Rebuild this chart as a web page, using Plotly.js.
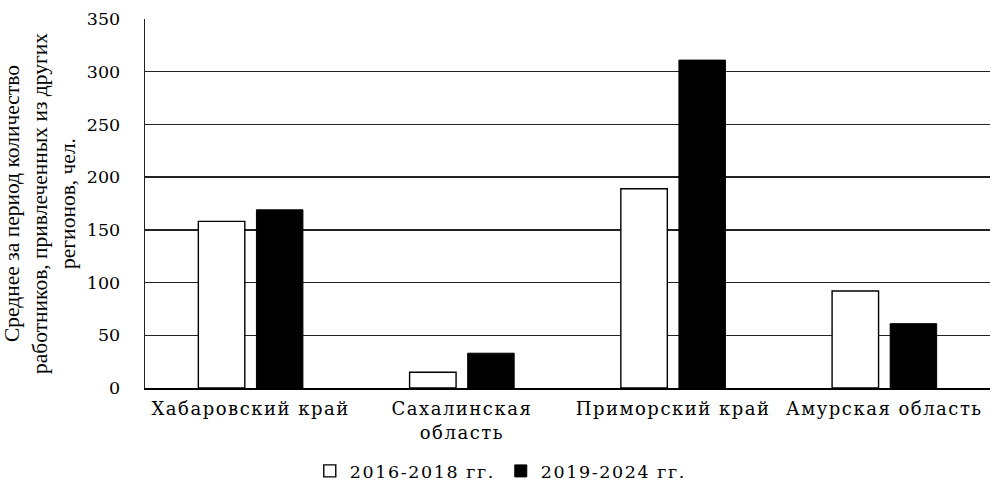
<!DOCTYPE html>
<html><head><meta charset="utf-8">
<script src="https://cdn.plot.ly/plotly-3.0.1.min.js"></script>
<style>
body{margin:0;background:#fff}#c{width:995px;height:483px}
#c .xtick text{letter-spacing:1.5px}
#c .legendtext{letter-spacing:1.6px}
</style>
</head><body><div id="c"></div>
<script>
const categories = ["Хабаровский край", "Сахалинская<br>область", "Приморский край", "Амурская область"];
const series1Name = "2016-2018 гг.";
const series2Name = "2019-2024 гг.";
const series1 = [158, 15, 189, 92];
const series2 = [169, 33, 311, 61];
const yTicks = [0, 50, 100, 150, 200, 250, 300, 350];

const yfont = {family: "DejaVu Serif, serif", size: 17.5, color: "#000"};
const xfont = {family: "DejaVu Serif, serif", size: 18, color: "#000"};
const data = [
  {type: "bar", x: categories, y: series1, name: series1Name,
   marker: {color: "#fff", line: {color: "#000", width: 1.4}}},
  {type: "bar", x: categories, y: series2, name: series2Name,
   marker: {color: "#000", line: {color: "#000", width: 1}}}
];
const layout = {
  width: 995, height: 483,
  margin: {l: 145, r: 5, t: 19, b: 95, autoexpand: false},
  paper_bgcolor: "#fff", plot_bgcolor: "#fff",
  font: yfont,
  barmode: "group", bargap: 0.45, bargroupgap: 0.2,
  showlegend: true,
  legend: {orientation: "h", x: 0.195, xanchor: "left", y: -0.225, yanchor: "middle",
    font: {family: "DejaVu Serif, serif", size: 17.5, color: "#000"},
    itemwidth: 30, entrywidth: 146, entrywidthmode: "pixels", traceorder: "normal"},
  xaxis: {showline: true, linecolor: "#000", linewidth: 1.5, ticks: "", tickfont: xfont,
    showgrid: false, automargin: false, ticklabelstandoff: 4},
  yaxis: {range: [0, 350], tickvals: yTicks, ticktext: yTicks.map(String),
    showgrid: true, gridcolor: "#222", gridwidth: 1.3, zeroline: false,
    showline: true, linecolor: "#222", linewidth: 1.3, ticks: "", tickfont: yfont,
    ticklabelstandoff: 20, automargin: true,
    title: {text: "Среднее за период количество<br>работников, привлеченных из других<br>регионов, чел.",
      font: {family: "Liberation Serif, serif", size: 21.5, color: "#000"}, standoff: 6}}
};
Plotly.newPlot("c", data, layout, {displayModeBar: false, staticPlot: true});
</script></body></html>
